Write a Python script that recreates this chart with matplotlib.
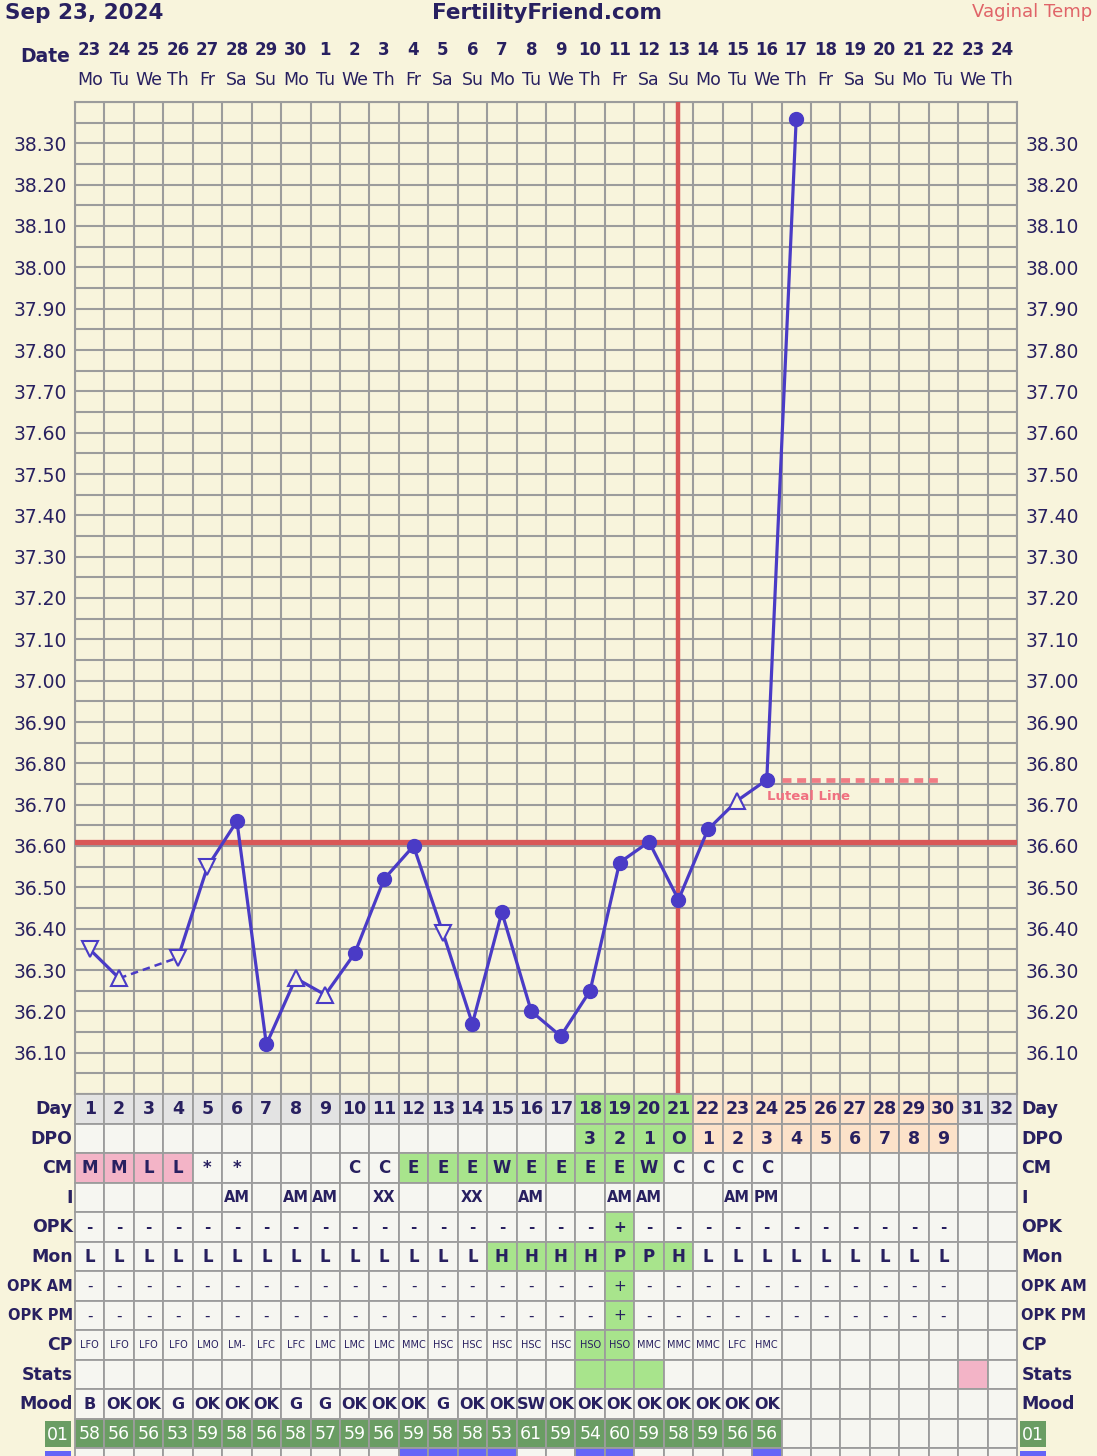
import matplotlib
matplotlib.use("Agg")
import matplotlib.pyplot as plt
from matplotlib.patches import Rectangle
import matplotlib.transforms as mtransforms
import numpy as np
import pandas as pd

W, H = 1097, 1456
BG = "#F8F4DC"
NAVY = "#282060"
LINE = "#4A3BC6"
RED = "#D95757"
GRID = "#9C9C9C"
CELL = "#F6F6F1"
DAYCELL = "#E3E3E3"
PINK = "#F3B4C7"
GREEN = "#A8E48C"
PEACH = "#FCE2C9"
DKGREEN = "#6A9D63"
BLUE = "#6565F7"

# ---------------- data ----------------
start_date = "2024-09-23"
n_days = 32
days = list(range(1, n_days + 1))
temps = [36.35, 36.28, None, 36.33, 36.55, 36.66, 36.12, 36.28, 36.24, 36.34,
         36.52, 36.60, 36.39, 36.17, 36.44, 36.20, 36.14, 36.25, 36.56, 36.61,
         36.47, 36.64, 36.71, 36.76, 38.36]
temp_markers = ['v', '^', None, 'v', 'v', 'o', 'o', '^', '^', 'o',
                'o', 'o', 'v', 'o', 'o', 'o', 'o', 'o', 'o', 'o',
                'o', 'o', '^', 'o', 'o']
coverline = 36.61
ovulation_day = 21
luteal_temp = 36.76
luteal_span = (24.5, 30)
yticks = [round(36.1 + 0.1 * i, 2) for i in range(23)]

row_labels = ["Day", "DPO", "CM", "I", "OPK", "Mon", "OPK AM", "OPK PM",
              "CP", "Stats", "Mood", "01", ""]
dpo = [""] * 17 + ["3", "2", "1", "O"] + [str(i) for i in range(1, 10)] + ["", ""]
cm = ["M", "M", "L", "L", "*", "*", "", "", "", "C", "C", "E", "E", "E", "W",
      "E", "E", "E", "E", "W", "C", "C", "C", "C"] + [""] * 8
intercourse = ["", "", "", "", "", "AM", "", "AM", "AM", "", "XX", "", "", "XX",
               "", "AM", "", "", "AM", "AM", "", "", "AM", "PM"] + [""] * 8
opk = ["-"] * 18 + ["+"] + ["-"] * 11 + ["", ""]
mon = ["L"] * 14 + ["H", "H", "H", "H", "P", "P", "H"] + ["L"] * 9 + ["", ""]
opk_am = ["-"] * 18 + ["+"] + ["-"] * 11 + ["", ""]
opk_pm = ["-"] * 18 + ["+"] + ["-"] * 11 + ["", ""]
cp = ["LFO", "LFO", "LFO", "LFO", "LMO", "LM-", "LFC", "LFC", "LMC", "LMC",
      "LMC", "MMC", "HSC", "HSC", "HSC", "HSC", "HSC", "HSO", "HSO", "MMC",
      "MMC", "MMC", "LFC", "HMC"] + [""] * 8
stats = [""] * 32
mood = ["B", "OK", "OK", "G", "OK", "OK", "OK", "G", "G", "OK", "OK", "OK", "G",
        "OK", "OK", "SW", "OK", "OK", "OK", "OK", "OK", "OK", "OK", "OK"] + [""] * 8
score01 = ["58", "56", "56", "53", "59", "58", "56", "58", "57", "59", "56", "59",
           "58", "58", "53", "61", "59", "54", "60", "59", "58", "59", "56", "56"] + [""] * 8
blue_row = [""] * 32

# highlighted days per row
fertile_days = [18, 19, 20, 21]
luteal_days = list(range(22, 31))
cm_pink_days = [1, 2, 3, 4]
cm_green_days = list(range(12, 21))
opk_green_days = [19]
mon_green_days = [15, 16, 17, 18, 19, 20, 21]
cp_green_days = [18, 19]
stats_green_days = [18, 19, 20]
stats_pink_days = [31]
blue_days = [12, 13, 14, 15, 18, 19, 24]

dates = pd.date_range(start_date, periods=n_days)
date_nums = [str(d.day) for d in dates]
weekdays = [d.strftime("%a")[:2] for d in dates]

# ---------------- figure ----------------
fig = plt.figure(figsize=(W / 100, H / 100), dpi=100, facecolor=BG)

def fx(x):
    return x / W

def fy(y):
    return 1 - y / H

BOLD = dict(fontweight="bold", color=NAVY)

ax = fig.add_axes([fx(75), fy(1094), fx(1017) - fx(75), fy(102) - fy(1094)])
ax.set_facecolor(BG)
ax.set_xlim(0.5, n_days + 0.5)
ax.set_ylim(36.0, 38.4)
for x in np.arange(0.5, n_days + 1, 1.0):
    ax.axvline(x, color=GRID, lw=1.5, zorder=1)
for yv in np.arange(36.0, 38.41, 0.05):
    ax.axhline(yv, color=GRID, lw=1.5, zorder=1)
for s in ax.spines.values():
    s.set_color(GRID)
    s.set_linewidth(1.5)
ax.set_xticks([])
ax.set_yticks(yticks)
ax.set_yticklabels([f"{t:.2f}" for t in yticks])
ax.tick_params(axis="y", length=0, labelsize=13.5, labelcolor=NAVY, pad=6,
               left=False, right=False, labelleft=True, labelright=True)

# coverline & ovulation
ax.axhline(coverline, color=RED, lw=3.8, zorder=3)
ax.axvline(ovulation_day, color=RED, lw=3.2, zorder=3)
ax.plot(luteal_span, [luteal_temp, luteal_temp], color="#F07C84", lw=3.4,
        ls=(0, (1.9, 1.2)), zorder=3)
ax.text(24.0, 36.72, "Luteal Line", color="#F07080", fontsize=9.5,
        fontweight="bold", ha="left", va="center", zorder=4)

# temperature line
tx = np.array(days[:len(temps)], dtype=float)
ty = np.array([np.nan if t is None else t for t in temps])
ax.plot(tx, ty, color=LINE, lw=2.3, zorder=5, solid_capstyle="round")
valid = ~np.isnan(ty)
idx = np.where(valid)[0]
for a, b in zip(idx[:-1], idx[1:]):
    if b - a > 1:
        ax.plot([tx[a], tx[b]], [ty[a], ty[b]], color=LINE, lw=1.8,
                ls=(0, (3, 2)), zorder=5)
for x, t, m in zip(tx, ty, temp_markers):
    if m is None:
        continue
    if m == "o":
        ax.plot(x, t, marker="o", ms=10, color=LINE, zorder=6)
    else:
        ax.plot(x, t, marker=m, ms=11.5, mfc=BG, mec=LINE, mew=1.5, zorder=6)

# header
fig.text(fx(5), fy(13), "Sep 23, 2024", fontsize=15.5, ha="left", va="center", **BOLD)
fig.text(fx(547), fy(13), "FertilityFriend.com", fontsize=15.5, ha="center",
         va="center", **BOLD)
fig.text(fx(1092), fy(12), "Vaginal Temp", fontsize=13, color="#E06468",
         ha="right", va="center")
fig.text(fx(45), fy(57), "Date", fontsize=13.5, ha="center", va="center", **BOLD)
blend = mtransforms.blended_transform_factory(ax.transData, fig.transFigure)
for d, dn, wd in zip(days, date_nums, weekdays):
    ax.text(d, fy(50), dn, transform=blend, fontsize=12, ha="center",
            va="center", clip_on=False, **BOLD)
    ax.text(d, fy(80), wd, transform=blend, fontsize=12.5, ha="center",
            va="center", color=NAVY, clip_on=False)

# ---------------- table ----------------
nrows = len(row_labels)
tab = fig.add_axes([fx(75), fy(1094 + nrows * 29.5), fx(1017) - fx(75), nrows * 29.5 / H])
tab.set_xlim(0.5, n_days + 0.5)
tab.set_ylim(nrows, 0)
tab.axis("off")

rows = [
    ([str(d) for d in days], dict(fontsize=12.5, fontweight="bold", color=NAVY)),
    (dpo, dict(fontsize=12.5, fontweight="bold", color=NAVY)),
    (cm, dict(fontsize=12, fontweight="bold", color=NAVY)),
    (intercourse, dict(fontsize=10.5, fontweight="bold", color=NAVY)),
    (opk, dict(fontsize=11, fontweight="bold", color=NAVY)),
    (mon, dict(fontsize=12, fontweight="bold", color=NAVY)),
    (opk_am, dict(fontsize=11, color=NAVY)),
    (opk_pm, dict(fontsize=11, color=NAVY)),
    (cp, dict(fontsize=7, color=NAVY)),
    (stats, dict(fontsize=10, color=NAVY)),
    (mood, dict(fontsize=11.5, fontweight="bold", color=NAVY)),
    (score01, dict(fontsize=12.5, color="white")),
    (blue_row, dict(fontsize=10, color=NAVY)),
]

def cell_color(r, d):
    if r == 0:
        if d in fertile_days:
            return GREEN
        if d in luteal_days:
            return PEACH
        return DAYCELL
    if r == 1:
        if d in fertile_days:
            return GREEN
        if d in luteal_days:
            return PEACH
        return CELL
    if r == 2:
        if d in cm_pink_days:
            return PINK
        if d in cm_green_days:
            return GREEN
        return CELL
    if r in (4, 6, 7):
        return GREEN if d in opk_green_days else CELL
    if r == 5:
        return GREEN if d in mon_green_days else CELL
    if r == 8:
        return GREEN if d in cp_green_days else CELL
    if r == 9:
        if d in stats_green_days:
            return GREEN
        if d in stats_pink_days:
            return PINK
        return CELL
    if r == 11:
        return DKGREEN if score01[d - 1] else CELL
    if r == 12:
        return BLUE if d in blue_days else CELL
    return CELL

for r, (vals, style) in enumerate(rows):
    for d in days:
        tab.add_patch(Rectangle((d - 0.5, r), 1, 1, fc=cell_color(r, d),
                                ec=GRID, lw=1.3, clip_on=False))
        v = vals[d - 1]
        if v:
            tab.text(d, r + 0.52, v, ha="center", va="center", clip_on=False, **style)

for r, lab in enumerate(row_labels):
    if r >= 11:
        continue
    size = 10.5 if len(lab) > 5 else 12.5
    tab.text(0.42, r + 0.52, lab, ha="right", va="center", fontsize=size,
             fontweight="bold", color=NAVY, clip_on=False)
    tab.text(n_days + 0.65, r + 0.52, lab, ha="left", va="center", fontsize=size,
             fontweight="bold", color=NAVY, clip_on=False)

# "01" label boxes and blue boxes on both sides
for x0 in (-0.52, n_days + 0.6):
    tab.add_patch(Rectangle((x0, 11.1), 0.9, 0.85, fc=DKGREEN, ec="none", clip_on=False))
    tab.text(x0 + 0.45, 11.55, row_labels[11], ha="center", va="center",
             fontsize=12.5, color="white", clip_on=False)
    tab.add_patch(Rectangle((x0, 12.1), 0.9, 0.85, fc=BLUE, ec="none", clip_on=False))

fig.savefig("out.png", dpi=100, facecolor=BG)
